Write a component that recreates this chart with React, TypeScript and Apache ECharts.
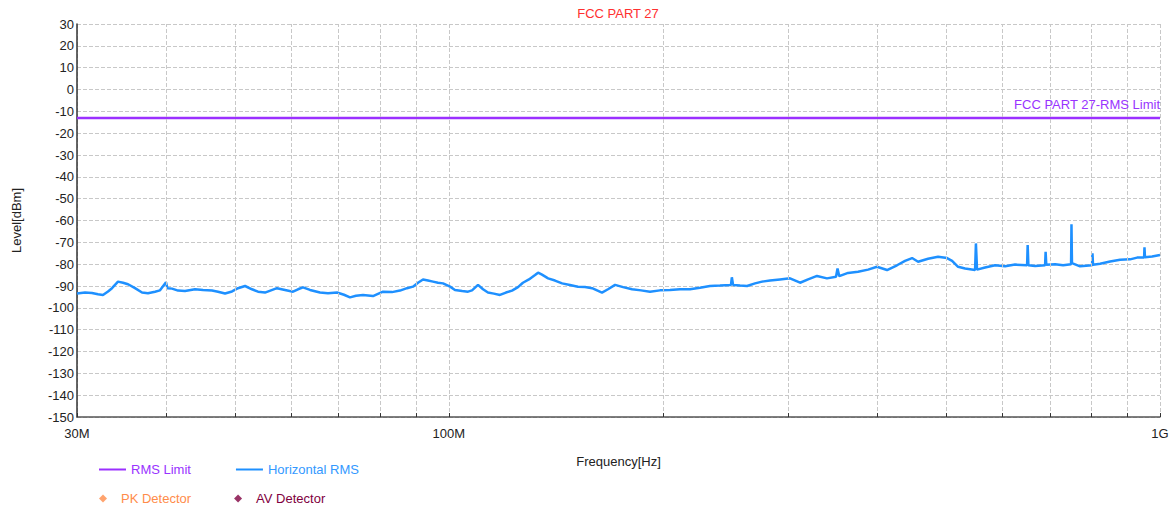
import React, { useEffect, useRef } from "react";
import * as echarts from "echarts";

// Frequencies in MHz
const freqMHz = [
  30.0, 30.79, 31.49, 32.11, 32.63, 33.17, 33.6, 34.26, 34.82, 35.39, 36.2, 37.03, 37.75, 38.62, 39.25,
  40.02, 40.2, 40.81, 41.61, 42.56, 43.96, 45.12, 46.45, 47.36, 48.45, 49.56, 50.53, 51.69, 52.87, 53.91,
  55.14, 56.22, 57.33, 58.83, 60.38, 61.36, 62.36, 63.79, 65.89, 67.62, 69.62, 71.21, 72.61, 74.03, 75.73,
  78.22, 80.8, 83.19, 85.37, 87.33, 89.04, 90.5, 91.97, 93.47, 95.0, 96.55, 98.13, 100.4, 102.0, 104.4,
  106.4, 107.8, 109.9, 111.7, 113.5, 115.7, 118.0, 120.3, 122.7, 125.1, 127.1, 129.6, 132.2, 133.5, 135.2,
  137.9, 141.0, 144.3, 148.0, 151.9, 155.4, 159.0, 164.2, 167.4, 171.3, 175.8, 181.0, 186.3, 191.8, 198.1,
  204.6, 211.4, 218.3, 225.5, 232.9, 240.6, 249.3, 250.0, 251.0, 256.7, 262.6, 269.5, 275.7, 282.9, 292.2,
  301.8, 311.8, 320.0, 329.4, 340.2, 350.3, 352.0, 354.0, 364.2, 376.2, 388.6, 400.0, 413.2, 426.8, 438.0,
  448.1, 456.9, 471.9, 487.4, 501.8, 510.1, 520.1, 532.0, 549.5, 551.0, 553.0, 567.6, 586.3, 605.6, 625.5,
  650.3, 651.5, 653.0, 667.4, 689.3, 690.5, 692.0, 712.0, 730.7, 749.8, 750.8, 752.0, 772.0, 802.6, 803.6,
  805.0, 823.7, 850.8, 878.8, 907.7, 928.5, 949.8, 951.0, 952.5, 974.7, 1000.0,
];

// Horizontal RMS level in dBm
const levelDbm = [
  -93.4, -93.0, -93.2, -93.8, -94.1, -92.5, -91.0, -88.0, -88.5, -89.2, -91.0, -93.0, -93.3, -92.6, -92.0,
  -88.3, -91.0, -91.2, -92.1, -92.3, -91.5, -91.8, -92.1, -92.6, -93.4, -92.5, -91.0, -90.0, -91.5, -92.6,
  -93.0, -92.0, -91.0, -91.8, -92.6, -91.5, -90.6, -91.8, -93.0, -93.3, -93.0, -94.0, -95.2, -94.5, -94.1,
  -94.6, -92.6, -92.8, -92.1, -91.0, -90.3, -88.5, -87.0, -87.5, -88.0, -88.5, -88.8, -90.3, -91.8, -92.3,
  -92.6, -92.0, -89.5, -91.5, -93.0, -93.5, -94.1, -93.0, -92.1, -90.5, -88.5, -87.0, -85.0, -83.9, -84.8,
  -86.5, -87.5, -88.8, -89.5, -90.3, -90.5, -91.0, -93.0, -91.5, -89.5, -90.5, -91.5, -92.0, -92.6, -92.0,
  -91.8, -91.5, -91.5, -90.8, -90.0, -89.8, -89.5, -86.0, -89.5, -89.8, -90.0, -88.8, -88.0, -87.5, -87.0,
  -86.5, -88.5, -87.0, -85.4, -86.5, -85.8, -82.0, -85.5, -84.0, -83.5, -82.5, -81.2, -82.7, -80.5, -78.5,
  -77.2, -78.9, -77.5, -76.6, -77.2, -78.5, -81.2, -82.0, -82.7, -70.5, -82.5, -81.5, -80.5, -81.0, -80.2,
  -80.5, -71.2, -80.5, -80.8, -80.5, -74.3, -80.3, -80.0, -80.5, -80.0, -61.7, -79.5, -81.0, -80.5, -75.0,
  -80.3, -79.8, -78.8, -78.0, -77.8, -77.0, -77.0, -72.3, -76.8, -76.5, -75.8,
];

const limitFreq = [30, 1000];
const limitLevel = [-13, -13];
const minorGridFreq = [40, 50, 60, 70, 80, 90, 200, 300, 400, 500, 600, 700, 800, 900];
const xTickLabels: Record<number, string> = { 30: "30M", 100: "100M", 1000: "1G" };
const yMin = -150;
const yMax = 30;
const yStep = 10;

const titleText = "FCC PART 27";
const limitLabel = "FCC PART 27-RMS Limit";
const legendNames = ["RMS Limit", "Horizontal RMS", "PK Detector", "AV Detector"];

const PURPLE = "#9b30ff";
const BLUE = "#1e90ff";
const ORANGE = "#ff8c4a";
const DARKRED = "#800040";
const FONT = "Liberation Sans, Arial, sans-serif";

export default function App() {
  const ref = useRef<HTMLDivElement>(null);
  useEffect(() => {
    document.body.style.margin = "0";
    if (!ref.current) return;
    const chart = echarts.init(ref.current, undefined, { renderer: "svg" });
    chart.setOption({
      animation: false,
      textStyle: { fontFamily: FONT },
      title: {
        text: titleText,
        left: 618,
        textAlign: "center",
        top: 7,
        padding: 0,
        textStyle: { color: "#ff3030", fontSize: 13, fontWeight: "normal", fontFamily: FONT },
      },
      grid: { left: 77, right: 15, top: 24, bottom: 92, containLabel: false },
      legend: [
        {
          data: [
            { name: legendNames[0], icon: "rect", textStyle: { color: "#9933ff" } },
            { name: legendNames[1], icon: "rect", textStyle: { color: "#3399ff" } },
          ],
          left: 99,
          top: 463,
          padding: 0,
          itemWidth: 27,
          itemHeight: 2,
          itemGap: 45,
          textStyle: { fontSize: 13, fontFamily: FONT },
          selectedMode: false,
        },
        {
          data: [
            { name: legendNames[2], icon: "diamond", textStyle: { color: ORANGE } },
            { name: legendNames[3], icon: "diamond", textStyle: { color: DARKRED } },
          ],
          left: 99,
          top: 492,
          padding: 0,
          itemWidth: 8,
          itemHeight: 8,
          itemGap: 43,
          textStyle: { fontSize: 13, fontFamily: FONT, padding: [0, 0, 0, 9] },
          selectedMode: false,
        },
      ],
      xAxis: {
        type: "log",
        logBase: 10,
        min: 30,
        max: 1000,
        name: "Frequency[Hz]",
        nameLocation: "middle",
        nameGap: 38,
        nameTextStyle: { color: "#222", fontSize: 13, fontFamily: FONT },
        axisLine: { show: true, onZero: false, lineStyle: { color: "#555", width: 1.5 } },
        axisTick: { show: true, inside: true, length: 4, lineStyle: { color: "#333" } },
        axisLabel: {
          color: "#222",
          fontSize: 13,
          margin: 10,
          showMinLabel: true,
          showMaxLabel: true,
          formatter: (v: number) => xTickLabels[Math.round(v)] ?? "",
        },
        splitLine: { show: true, lineStyle: { color: "#c8c8c8", type: "dashed", width: 1 } },
      },
      yAxis: {
        type: "value",
        min: yMin,
        max: yMax,
        interval: yStep,
        name: "Level[dBm]",
        nameLocation: "middle",
        nameGap: 54,
        nameTextStyle: { color: "#222", fontSize: 13, fontFamily: FONT },
        axisLine: { show: true, onZero: false, lineStyle: { color: "#333", width: 1.5 } },
        axisTick: { show: false },
        axisLabel: { color: "#222", fontSize: 13, margin: 3 },
        splitLine: { show: true, lineStyle: { color: "#c8c8c8", type: "dashed", width: 1 } },
      },
      series: [
        {
          name: "_grid",
          type: "line",
          data: [],
          z: 1,
          silent: true,
          markLine: {
            silent: true,
            symbol: "none",
            label: { show: false },
            animation: false,
            data: [
              ...minorGridFreq.map((f) => ({
                xAxis: f,
                lineStyle: { color: "#c8c8c8", type: "dashed", width: 1 },
              })),
              ...minorGridFreq.map((f) => [
                { coord: [f, yMin], lineStyle: { color: "#333", type: "solid", width: 1 } },
                { coord: [f, yMin + 1.8] },
              ]),
            ],
          },
        },
        {
          name: legendNames[0],
          type: "line",
          data: limitFreq.map((f, i) => [f, limitLevel[i]]),
          showSymbol: false,
          symbol: "none",
          color: PURPLE,
          lineStyle: { color: PURPLE, width: 2.5 },
          z: 4,
          markPoint: {
            symbol: "circle",
            symbolSize: 0,
            silent: true,
            data: [{ coord: [limitFreq[1], limitLevel[1]] }],
            label: {
              show: true,
              formatter: limitLabel,
              position: "top",
              align: "right",
              verticalAlign: "bottom",
              distance: 7,
              color: "#9933ff",
              fontSize: 13,
              fontFamily: FONT,
            },
          },
        },
        {
          name: legendNames[1],
          type: "line",
          data: freqMHz.map((f, i) => [f, levelDbm[i]]),
          showSymbol: false,
          symbol: "none",
          color: BLUE,
          lineStyle: { color: BLUE, width: 2.5 },
          z: 3,
        },
        {
          name: legendNames[2],
          type: "scatter",
          data: [],
          symbol: "diamond",
          color: ORANGE,
        },
        {
          name: legendNames[3],
          type: "scatter",
          data: [],
          symbol: "diamond",
          color: DARKRED,
        },
      ],
    });
    return () => chart.dispose();
  }, []);
  return <div ref={ref} style={{ width: 1175, height: 509 }} />;
}
